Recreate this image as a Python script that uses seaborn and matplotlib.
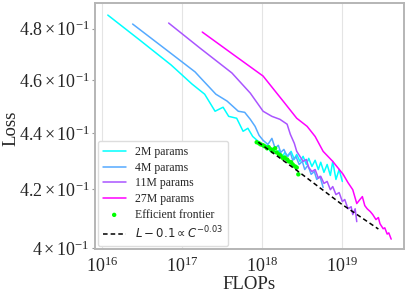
import numpy as np
import pandas as pd
import seaborn as sns
import matplotlib
matplotlib.use("Agg")
import matplotlib.pyplot as plt
from matplotlib.ticker import NullLocator

# loss curves, FLOPs given as log10 values
cyan_logc = [16.07, 16.47, 16.86, 17.12, 17.28, 17.41, 17.51, 17.58, 17.68, 17.76, 17.82, 17.88, 17.95,
             17.98, 18.02, 18.06, 18.10, 18.13, 18.17, 18.21, 18.25, 18.28, 18.32, 18.36, 18.40, 18.43, 18.47,
             18.51, 18.55, 18.58, 18.62, 18.66, 18.70, 18.73, 18.77, 18.81, 18.85, 18.88, 18.92, 18.96, 19.00]
cyan_loss = [0.4855, 0.4755, 0.4658, 0.4585, 0.4546, 0.4482, 0.4497, 0.4463, 0.4456, 0.4408, 0.4419, 0.4389, 0.4371,
             0.4360, 0.4350, 0.4357, 0.4335, 0.4346, 0.4328, 0.4339, 0.4313, 0.4331, 0.4317, 0.4335, 0.4306, 0.4324, 0.4299,
             0.4317, 0.4288, 0.4310, 0.4281, 0.4303, 0.4270, 0.4296, 0.4260, 0.4288, 0.4249, 0.4299, 0.4235, 0.4270, 0.4228]

blue_logc = [16.38, 16.80, 17.16, 17.22, 17.42, 17.56, 17.70, 17.78, 17.85, 17.91, 17.96, 18.01, 18.07, 18.12,
             18.16, 18.20, 18.23, 18.27, 18.31, 18.35, 18.38, 18.42, 18.46, 18.50, 18.53, 18.57, 18.61, 18.65,
             18.68, 18.72, 18.76]
blue_loss = [0.4819, 0.4717, 0.4631, 0.4611, 0.4546, 0.4520, 0.4482, 0.4478, 0.4452, 0.4426, 0.4393, 0.4375, 0.4360, 0.4382,
             0.4346, 0.4357, 0.4331, 0.4342, 0.4317, 0.4331, 0.4303, 0.4317, 0.4288, 0.4299, 0.4270, 0.4285, 0.4253, 0.4263,
             0.4235, 0.4246, 0.4207]

purple_logc = [16.83, 17.22, 17.62, 17.85, 18.01, 18.12, 18.22, 18.31, 18.35, 18.40, 18.43, 18.47, 18.51, 18.55,
               18.58, 18.62, 18.66, 18.70, 18.73, 18.77, 18.81, 18.85, 18.88, 18.92, 18.96, 19.00, 19.03, 19.07,
               19.11, 19.13, 19.16, 19.18]
purple_loss = [0.4823, 0.4724, 0.4627, 0.4550, 0.4482, 0.4463, 0.4452, 0.4434, 0.4397, 0.4364, 0.4335, 0.4317, 0.4299, 0.4306,
               0.4277, 0.4263, 0.4270, 0.4239, 0.4246, 0.4221, 0.4228, 0.4199, 0.4210, 0.4182, 0.4189, 0.4158, 0.4165, 0.4133,
               0.4140, 0.4113, 0.4133, 0.4089]

magenta_logc = [17.25, 17.63, 18.01, 18.26, 18.43, 18.56, 18.66, 18.76, 18.88, 19.01, 19.07, 19.13, 19.18, 19.22,
                19.25, 19.28, 19.31, 19.35, 19.38, 19.42, 19.45, 19.47, 19.51, 19.53, 19.56, 19.58, 19.61]
magenta_loss = [0.4787, 0.4700, 0.4615, 0.4520, 0.4456, 0.4426, 0.4389, 0.4335, 0.4299, 0.4253, 0.4224, 0.4199, 0.4151, 0.4165,
                0.4175, 0.4144, 0.4133, 0.4123, 0.4113, 0.4096, 0.4103, 0.4082, 0.4065, 0.4068, 0.4047, 0.4051, 0.4030]

frontier_logc = [17.93, 17.96, 17.98, 18.01, 18.03, 18.06, 18.08, 18.11, 18.13, 18.16, 18.18,
                 18.21, 18.23, 18.26, 18.28, 18.31, 18.33, 18.36, 18.38, 18.41, 18.43, 18.45]
frontier_loss = [0.4368, 0.4364, 0.4360, 0.4357, 0.4353, 0.4346, 0.4350, 0.4342, 0.4335, 0.4346, 0.4331,
                 0.4324, 0.4320, 0.4310, 0.4313, 0.4306, 0.4299, 0.4296, 0.4288, 0.4281, 0.4277, 0.4253]

fit_logc = [17.95, 18.45, 18.98, 19.45]
fit_loss = [0.4368, 0.4263, 0.4151, 0.4064]

labels = ["2M params", "4M params", "11M params", "27M params"]
series = [(cyan_logc, cyan_loss), (blue_logc, blue_loss), (purple_logc, purple_loss), (magenta_logc, magenta_loss)]
yticks = [0.40, 0.42, 0.44, 0.46, 0.48]

sns.set_style("whitegrid")
plt.rcParams["font.family"] = ["Liberation Serif", "DejaVu Serif"]
plt.rcParams["mathtext.fontset"] = "stix"
plt.rcParams["axes.edgecolor"] = "#b5b5b5"
plt.rcParams["axes.linewidth"] = 1.4
plt.rcParams["grid.color"] = "#e4e4e4"

colors = plt.cm.cool(np.linspace(0, 1, 4))

fig, ax = plt.subplots(figsize=(4.07, 2.94), dpi=100)
fig.subplots_adjust(left=0.2334, right=0.9926, bottom=0.153, top=0.9898)

for (lc, ls), c, lab in zip(series, colors, labels):
    df = pd.DataFrame({"flops": 10 ** np.array(lc), "loss": ls})
    sns.lineplot(data=df, x="flops", y="loss", color=c, label=lab, lw=1.1,
                 estimator=None, sort=False, ax=ax)

fr = pd.DataFrame({"flops": 10 ** np.array(frontier_logc), "loss": frontier_loss})
sns.scatterplot(data=fr, x="flops", y="loss", color="#00ff00", s=10, edgecolor="none",
                label="Efficient frontier", ax=ax, zorder=4)

fit = pd.DataFrame({"flops": 10 ** np.array(fit_logc), "loss": fit_loss})
sns.lineplot(data=fit, x="flops", y="loss", color="black", lw=1.1, ls=(0, (3, 2)),
             label=r"$L - 0.1 \propto C^{-0.03}$", estimator=None, ax=ax, zorder=5)

ax.set_xscale("log")
ax.set_yscale("log")
ax.set_xlim(10 ** 15.91, 10 ** 19.77)
ax.set_ylim(0.3997, 0.4904)
ax.set_yticks(yticks)
ax.yaxis.set_minor_locator(NullLocator())
ax.xaxis.set_minor_locator(NullLocator())
ax.tick_params(axis="both", labelsize=13)
ax.tick_params(axis="y", left=True, length=2, color="#999999", pad=2)
ax.tick_params(axis="x", pad=2)
ax.set_xlabel("FLOPs", fontsize=13.5, labelpad=0)
ax.set_ylabel("Loss", fontsize=13.5)
ax.yaxis.set_label_coords(-0.245, 0.49)
ax.grid(axis="y", visible=False)

leg = ax.legend(loc="lower left", fontsize=8.5, labelspacing=0.32, handlelength=1.95,
                borderaxespad=0.25, framealpha=1, edgecolor="#dddddd")
for t in leg.get_texts():
    if "$" in t.get_text():
        t.set_math_fontfamily("dejavusans")

fig.savefig("out.png", dpi=100)
